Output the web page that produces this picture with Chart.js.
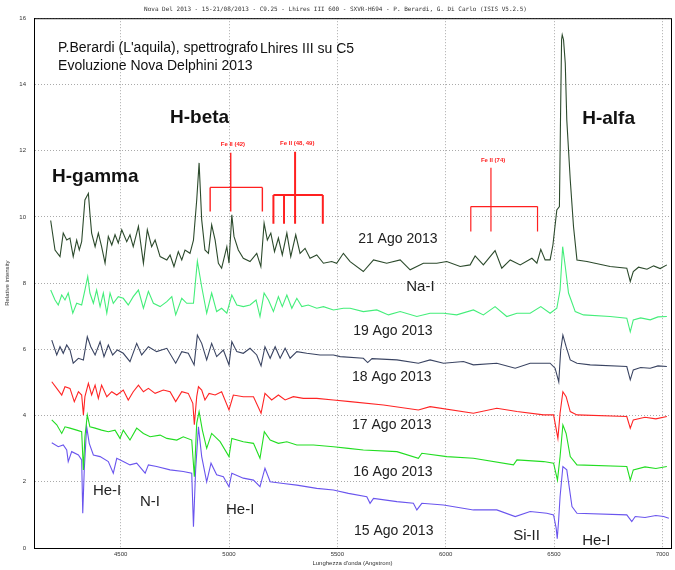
<!DOCTYPE html>
<html>
<head>
<meta charset="utf-8">
<title>Nova Delphini 2013</title>
<script src="https://cdn.jsdelivr.net/npm/chart.js@4.4.0/dist/chart.umd.min.js"></script>
<style>
  body { margin: 0; background: #fff; }
  #wrap { width: 675px; height: 570px; }
</style>
</head>
<body>
<div id="wrap"><canvas id="spec" width="675" height="570"></canvas></div>
<script>
// spectra, [wavelength (A), relative intensity]
const spec21 = [[4177,9.89],[4197,9.00],[4220,8.80],[4235,9.51],[4251,9.30],[4266,9.36],[4281,8.80],[4297,9.30],[4309,9.00],[4320,9.25],[4335,10.51],[4351,10.71],[4358,10.11],[4366,9.51],[4382,9.10],[4397,9.51],[4412,9.10],[4428,8.60],[4443,9.41],[4459,9.15],[4474,9.46],[4489,9.21],[4505,9.61],[4528,9.25],[4543,9.46],[4558,9.10],[4582,9.71],[4605,8.60],[4623,9.61],[4643,9.10],[4659,9.30],[4682,8.80],[4713,8.70],[4728,8.85],[4746,8.50],[4766,8.95],[4782,8.70],[4797,9.00],[4820,8.90],[4836,9.30],[4851,10.51],[4862,11.63],[4874,9.91],[4889,9.00],[4905,8.90],[4920,9.76],[4936,9.30],[4951,8.60],[4966,8.45],[4990,9.10],[5000,8.60],[5013,10.06],[5023,9.41],[5043,9.00],[5066,8.75],[5097,8.65],[5128,8.90],[5147,8.50],[5162,9.81],[5177,9.30],[5193,9.51],[5210,8.95],[5228,9.36],[5246,8.85],[5267,9.51],[5285,8.80],[5308,9.46],[5328,8.90],[5351,9.05],[5374,8.75],[5405,8.85],[5436,8.60],[5474,8.65],[5497,8.60],[5528,8.90],[5559,8.65],[5620,8.35],[5667,8.70],[5728,8.60],[5790,8.70],[5836,8.40],[5897,8.60],[5959,8.60],[6005,8.65],[6067,8.50],[6113,8.55],[6136,8.82],[6174,8.55],[6228,8.98],[6259,8.45],[6298,8.70],[6344,8.55],[6398,8.75],[6421,8.60],[6439,9.02],[6459,8.70],[6482,8.70],[6495,9.15],[6513,10.21],[6525,10.31],[6530,12.93],[6535,15.35],[6538,15.50],[6544,15.35],[6552,14.64],[6559,12.93],[6575,11.12],[6590,9.71],[6606,8.70],[6652,8.65],[6759,8.50],[6836,8.45],[6852,8.05],[6866,8.35],[6890,8.48],[6929,8.42],[6960,8.52],[6990,8.44],[7021,8.55]];

const spec19 = [[4177,7.79],[4197,7.49],[4212,7.34],[4228,7.64],[4243,7.49],[4258,7.70],[4279,7.09],[4297,7.39],[4320,7.34],[4335,7.79],[4348,8.20],[4358,7.70],[4374,7.39],[4389,7.79],[4405,7.29],[4420,7.70],[4436,7.09],[4451,7.70],[4466,7.39],[4489,7.59],[4512,7.54],[4535,7.34],[4558,7.59],[4582,7.79],[4605,7.24],[4628,7.75],[4651,7.39],[4682,7.29],[4713,7.44],[4736,7.59],[4754,7.04],[4782,7.54],[4805,7.39],[4836,7.39],[4854,8.66],[4874,7.89],[4897,7.09],[4920,7.70],[4943,7.14],[4966,7.24],[4990,7.09],[5013,7.64],[5036,7.34],[5066,7.29],[5097,7.34],[5125,7.49],[5143,6.99],[5162,7.70],[5182,7.49],[5205,7.14],[5228,7.59],[5246,7.29],[5267,7.64],[5290,7.24],[5313,7.54],[5336,7.29],[5366,7.34],[5405,7.24],[5436,7.29],[5482,7.19],[5528,7.24],[5559,7.24],[5620,7.14],[5682,7.19],[5736,7.04],[5790,7.14],[5867,6.99],[5928,7.09],[5990,7.09],[6051,7.04],[6128,7.19],[6174,7.04],[6228,7.29],[6282,6.99],[6329,7.09],[6390,7.09],[6439,7.29],[6482,7.09],[6513,7.24],[6528,7.79],[6540,9.10],[6552,8.50],[6567,7.70],[6598,7.14],[6636,7.04],[6759,6.99],[6836,6.94],[6852,6.53],[6866,6.89],[6900,6.95],[6944,6.89],[6980,6.98],[7021,6.99]];

const spec18 = [[4182,6.28],[4205,5.83],[4220,6.08],[4235,5.88],[4251,6.13],[4266,5.98],[4281,5.58],[4305,5.73],[4328,5.68],[4346,6.38],[4362,6.08],[4382,5.83],[4405,6.23],[4423,5.78],[4443,6.13],[4463,5.83],[4485,5.98],[4512,5.88],[4543,5.63],[4574,6.18],[4597,5.83],[4628,6.08],[4666,5.93],[4713,6.03],[4754,5.58],[4782,5.93],[4812,5.88],[4839,5.53],[4854,6.43],[4874,6.18],[4897,5.68],[4920,6.18],[4943,5.78],[4974,5.98],[5000,5.53],[5013,6.23],[5036,5.93],[5066,5.88],[5097,6.03],[5128,5.83],[5148,5.50],[5166,6.08],[5190,5.73],[5213,6.08],[5236,5.73],[5259,6.03],[5282,5.73],[5313,5.93],[5359,5.88],[5420,5.83],[5482,5.83],[5513,5.78],[5620,5.73],[5640,5.60],[5660,5.72],[5775,5.68],[5874,5.58],[5928,5.68],[5990,5.58],[6082,5.63],[6128,5.53],[6236,5.58],[6321,5.43],[6390,5.58],[6482,5.58],[6505,5.43],[6522,5.02],[6531,5.98],[6541,6.43],[6556,6.08],[6575,5.68],[6606,5.58],[6667,5.53],[6836,5.48],[6852,5.08],[6866,5.38],[6900,5.45],[6944,5.43],[6980,5.50],[7021,5.48]];

const spec17 = [[4182,5.02],[4205,4.82],[4228,4.62],[4243,4.87],[4266,4.82],[4286,4.42],[4305,4.72],[4320,4.62],[4328,4.02],[4335,4.57],[4351,4.97],[4366,4.62],[4382,4.92],[4397,4.52],[4412,4.92],[4436,4.57],[4459,4.72],[4482,4.62],[4512,4.77],[4535,4.47],[4558,4.72],[4582,4.92],[4605,4.72],[4628,4.82],[4659,4.67],[4697,4.77],[4728,4.72],[4754,4.42],[4782,4.72],[4812,4.67],[4833,4.37],[4840,3.72],[4851,4.57],[4859,4.87],[4874,4.77],[4889,4.47],[4908,4.67],[4936,4.62],[4966,4.72],[5000,4.17],[5020,4.62],[5066,4.57],[5113,4.57],[5148,4.07],[5166,4.67],[5197,4.47],[5228,4.62],[5259,4.47],[5297,4.57],[5343,4.52],[5405,4.52],[5482,4.47],[5559,4.42],[5713,4.32],[5874,4.17],[5928,4.27],[6128,4.07],[6236,4.22],[6329,4.12],[6452,4.02],[6498,4.02],[6518,3.31],[6528,4.07],[6541,4.72],[6556,4.57],[6575,4.12],[6606,4.02],[6836,3.97],[6852,3.62],[6866,3.87],[6920,3.95],[6970,3.90],[7021,3.97]];

const spec16 = [[4182,3.87],[4205,3.72],[4228,3.46],[4243,3.66],[4266,3.62],[4297,3.56],[4320,3.51],[4328,2.36],[4335,3.36],[4346,4.02],[4358,3.66],[4382,3.62],[4412,3.56],[4443,3.51],[4474,3.56],[4497,3.31],[4512,3.56],[4543,3.26],[4574,3.62],[4605,3.46],[4636,3.36],[4682,3.41],[4713,3.31],[4759,3.26],[4789,3.36],[4828,3.26],[4840,2.15],[4851,3.77],[4862,4.12],[4877,3.56],[4897,3.01],[4920,3.46],[4959,3.21],[5000,2.76],[5013,3.31],[5066,3.21],[5113,3.16],[5143,2.71],[5163,3.51],[5190,3.26],[5228,3.16],[5267,3.21],[5313,3.11],[5390,3.11],[5482,3.06],[5551,3.01],[5620,2.96],[5775,2.91],[5874,2.71],[5890,2.86],[6005,2.76],[6128,2.71],[6313,2.51],[6329,2.66],[6452,2.61],[6498,2.56],[6516,2.05],[6528,2.76],[6541,3.72],[6556,3.46],[6575,2.76],[6606,2.51],[6836,2.46],[6852,2.05],[6866,2.36],[6920,2.45],[6970,2.40],[7021,2.46]];

const spec15 = [[4182,3.18],[4212,3.06],[4235,3.11],[4251,2.96],[4258,2.61],[4274,2.91],[4305,2.81],[4320,2.66],[4325,1.05],[4332,2.36],[4343,3.66],[4355,3.16],[4374,2.81],[4405,2.76],[4443,2.61],[4466,2.26],[4482,2.71],[4512,2.61],[4543,2.51],[4574,2.56],[4613,2.26],[4628,2.51],[4666,2.46],[4728,2.36],[4789,2.31],[4828,2.26],[4836,0.64],[4846,2.36],[4859,3.66],[4874,2.76],[4897,2.00],[4917,2.56],[4943,2.21],[4974,2.15],[5000,1.85],[5013,2.26],[5066,2.11],[5113,2.05],[5143,1.85],[5166,2.41],[5190,2.00],[5251,1.95],[5313,1.90],[5405,1.80],[5482,1.75],[5551,1.65],[5636,1.55],[5651,1.35],[5667,1.50],[5775,1.40],[5851,1.35],[5867,1.15],[5890,1.35],[5990,1.30],[6128,1.15],[6236,1.15],[6321,0.95],[6390,1.10],[6467,1.05],[6498,1.00],[6510,0.60],[6515,0.28],[6521,0.80],[6528,1.55],[6541,2.46],[6559,2.36],[6583,1.25],[6606,1.05],[6836,1.00],[6859,0.80],[6875,0.95],[6920,0.92],[6970,0.98],[7006,0.95],[7030,0.90]];

const dates = ['21 Ago 2013', '19 Ago 2013', '18 Ago 2013', '17 Ago 2013', '16 Ago 2013', '15 Ago 2013'];
const spectra = [spec21, spec19, spec18, spec17, spec16, spec15];
const colors = ['#2c4a2c', '#44ee7a', '#3a4462', '#ff2424', '#22dd22', '#6a55ee'];

const xTicks = [4500, 5000, 5500, 6000, 6500, 7000];
const yTicks = [0, 2, 4, 6, 8, 10, 12, 14, 16];

// Fe II line identifications (wavelengths and bracket heights)
const feNames = ['Fe II (42)', 'Fe II (48, 49)', 'Fe II (74)'];
const feCenter = [5008, 5305, 6209];
const feLegs = [[4913, 5154], [5205, 5254, 5433], [6116, 6424]];
const feTop = [11.94, 11.97, 11.48];
const feBar = [10.89, 10.66, 10.31];
const feFoot = [10.16, 9.79, 9.56];

// line labels written on the plot: [text, wavelength, intensity]
const lineNames = [
  ['H-gamma', 4183, 11.21], ['H-beta', 4728, 12.99], ['H-alfa', 6630, 12.96]
];
const ionNames = [
  ['Na-I', 5818, 7.89], ['He-I', 4372, 1.72], ['N-I', 4589, 1.39],
  ['He-I', 4986, 1.15], ['Si-II', 6312, 0.36], ['He-I', 6630, 0.21]
];
const datePos = [[5596, 9.34], [5573, 6.56], [5568, 5.17], [5568, 3.72], [5573, 2.30], [5577, 0.51]];

function feSegments(i) {
  const pts = [];
  pts.push({x: feCenter[i], y: feTop[i]}, {x: feCenter[i], y: feFoot[i]}, {x: NaN, y: null});
  const legs = feLegs[i];
  pts.push({x: Math.min(...legs), y: feBar[i]}, {x: Math.max(...legs), y: feBar[i]}, {x: NaN, y: null});
  legs.forEach(l => pts.push({x: l, y: feBar[i]}, {x: l, y: feFoot[i]}, {x: NaN, y: null}));
  return pts;
}

const datasets = spectra.map((s, i) => ({
  label: dates[i],
  data: s.map(p => ({x: p[0], y: p[1]})),
  borderColor: colors[i],
  borderWidth: 1.1,
  pointRadius: 0,
  tension: 0,
  fill: false
}));
const feWidth = [1.4, 2, 1.2];
feNames.forEach((n, i) => datasets.push({
  label: n,
  data: feSegments(i),
  borderColor: '#ff2020',
  borderWidth: feWidth[i],
  pointRadius: 0,
  spanGaps: false,
  fill: false
}));

const notesPlugin = {
  id: 'notes',
  afterDraw(chart) {
    const {ctx, chartArea: a, scales: {x, y}} = chart;
    ctx.save();
    ctx.strokeStyle = '#000';
    ctx.lineWidth = 1;
    ctx.strokeRect(a.left + 0.5, a.top + 0.5, a.right - a.left, a.bottom - a.top);

    ctx.textBaseline = 'middle';
    ctx.textAlign = 'left';
    ctx.fillStyle = '#111';
    ctx.font = '14px "Liberation Sans", Arial, sans-serif';
    ctx.fillText("P.Berardi (L'aquila), spettrografo", x.getPixelForValue(4211), y.getPixelForValue(15.11));
    ctx.fillText('Lhires III su C5', x.getPixelForValue(5143), y.getPixelForValue(15.08));
    ctx.fillText('Evoluzione Nova Delphini 2013', x.getPixelForValue(4211), y.getPixelForValue(14.56));

    ctx.font = 'bold 19px "Liberation Sans", Arial, sans-serif';
    lineNames.forEach(n => ctx.fillText(n[0], x.getPixelForValue(n[1]), y.getPixelForValue(n[2])));

    ctx.fillStyle = '#222';
    ctx.font = '14px "Liberation Sans", Arial, sans-serif';
    dates.forEach((d, i) => ctx.fillText(d, x.getPixelForValue(datePos[i][0]), y.getPixelForValue(datePos[i][1])));
    ctx.font = '15px "Liberation Sans", Arial, sans-serif';
    ionNames.forEach(n => ctx.fillText(n[0], x.getPixelForValue(n[1]), y.getPixelForValue(n[2])));

    ctx.fillStyle = '#ff2020';
    ctx.textAlign = 'center';
    ctx.font = 'bold 6px "Liberation Sans", Arial, sans-serif';
    feNames.forEach((n, i) => ctx.fillText(n, x.getPixelForValue(feCenter[i] + 10), y.getPixelForValue(feTop[i] + 0.24)));
    ctx.restore();
  }
};

new Chart(document.getElementById('spec'), {
  type: 'line',
  data: {datasets},
  plugins: [notesPlugin],
  options: {
    responsive: false,
    animation: false,
    devicePixelRatio: 1,
    layout: {padding: {top: 1, right: 4, left: 0, bottom: 0}},
    plugins: {
      legend: {display: false},
      tooltip: {enabled: false},
      title: {
        display: true,
        text: 'Nova Del 2013 - 15-21/08/2013 - C9.25 - Lhires III 600 - SXVR-H694 - P. Berardi, G. Di Carlo (ISIS V5.2.5)',
        color: '#333',
        font: {family: 'DejaVu Sans Mono', size: 6, weight: 'normal'},
        padding: {top: 5, bottom: 5}
      }
    },
    scales: {
      x: {
        type: 'linear',
        min: 4100,
        max: 7040,
        afterFit(s) { s.height = 22; },
        afterBuildTicks(s) { s.ticks = xTicks.map(v => ({value: v})); },
        ticks: {font: {family: 'Liberation Sans', size: 6}, color: '#333', padding: 3, maxRotation: 0,
                callback: v => String(v)},
        grid: {color: '#aaa', drawTicks: false},
        border: {display: true, color: '#000', dash: [1, 2]},
        title: {display: true, text: "Lunghezza d'onda (Angstrom)", color: '#333',
                font: {family: 'Liberation Sans', size: 6}, padding: {top: 0, bottom: 3}}
      },
      y: {
        type: 'linear',
        min: 0,
        max: 16,
        afterFit(s) { s.width = 34; },
        afterBuildTicks(s) { s.ticks = yTicks.map(v => ({value: v})); },
        ticks: {font: {family: 'Liberation Sans', size: 6}, color: '#333', padding: 8,
                callback: v => String(v)},
        grid: {color: '#aaa', drawTicks: false},
        border: {display: true, color: '#000', dash: [1, 2]},
        title: {display: true, text: 'Relative intensity', color: '#333',
                font: {family: 'Liberation Sans', size: 6}, padding: {top: 4, bottom: 0}}
      }
    }
  }
});
</script>
</body>
</html>
